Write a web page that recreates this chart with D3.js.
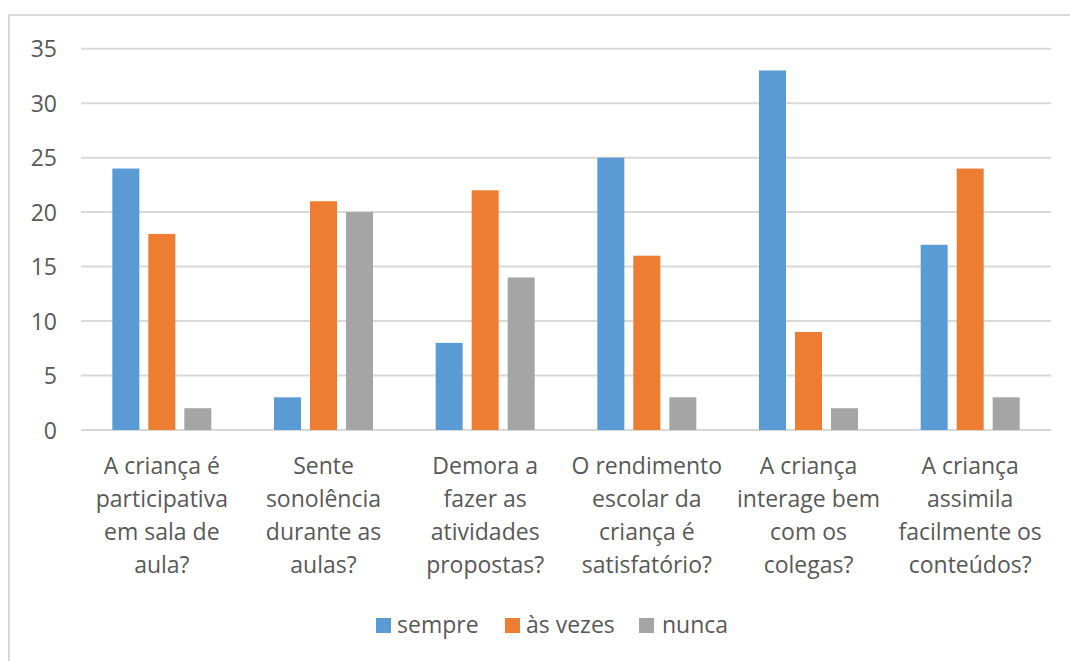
<!DOCTYPE html>
<html>
<head>
<meta charset="utf-8">
<script src="https://cdn.jsdelivr.net/npm/d3@7"></script>
<style>
  html, body { margin: 0; padding: 0; background: #fff; }
  svg { display: block; }
  text { font-family: "Open Sans", "Noto Sans", sans-serif; fill: #595959; }
</style>
</head>
<body>
<svg id="chart" width="1070" height="661"></svg>
<script>
// Survey answers per question
const categories = [
  ["A criança é", "participativa", "em sala de", "aula?"],
  ["Sente", "sonolência", "durante as", "aulas?"],
  ["Demora a", "fazer as", "atividades", "propostas?"],
  ["O rendimento", "escolar da", "criança é", "satisfatório?"],
  ["A criança", "interage bem", "com os", "colegas?"],
  ["A criança", "assimila", "facilmente os", "conteúdos?"]
];
const seriesNames = ["sempre", "às vezes", "nunca"];
const sempre = [24, 3, 8, 25, 33, 17];
const asVezes = [18, 21, 22, 16, 9, 24];
const nunca = [2, 20, 14, 3, 2, 3];
const yTicks = [0, 5, 10, 15, 20, 25, 30, 35];
const colors = ["#5B9BD5", "#ED7D31", "#A5A5A5"];

const seriesValues = [sempre, asVezes, nunca];
const catKeys = categories.map((c, i) => "c" + i);

const svg = d3.select("#chart");

// outer chart frame
svg.append("rect")
  .attr("x", 9).attr("y", 15)
  .attr("width", 1080).attr("height", 670)
  .attr("fill", "none")
  .attr("stroke", "#d9d9d9")
  .attr("stroke-width", 2);

const plot = { left: 81, right: 1051, top: 48.7, bottom: 430 };

const x0 = d3.scaleBand().domain(catKeys).range([plot.left, plot.right]).padding(0);
const clusterW = 99;
const x1 = d3.scaleBand().domain(seriesNames)
  .range([(x0.bandwidth() - clusterW) / 2, (x0.bandwidth() + clusterW) / 2])
  .paddingInner(0.25).paddingOuter(0);
const y = d3.scaleLinear().domain([0, 35]).range([plot.bottom, plot.top]);

// horizontal gridlines
svg.append("g").selectAll("line")
  .data(yTicks)
  .join("line")
  .attr("x1", plot.left).attr("x2", plot.right)
  .attr("y1", d => y(d)).attr("y2", d => y(d))
  .attr("stroke", "#d9d9d9")
  .attr("stroke-width", 2);

// value axis labels
const yAxis = d3.axisLeft(y).tickValues(yTicks).tickSize(0).tickPadding(0);
const gy = svg.append("g").attr("transform", "translate(57,0)").call(yAxis);
gy.select(".domain").remove();
gy.selectAll("text")
  .attr("font-family", "Open Sans")
  .attr("font-size", 23)
  .attr("fill", "#595959")
  .attr("dy", "0.36em");

// bars
const groups = svg.append("g").selectAll("g")
  .data(catKeys)
  .join("g")
  .attr("transform", d => `translate(${x0(d)},0)`);

groups.selectAll("rect")
  .data((d, ci) => seriesNames.map((s, si) => ({ s, si, v: seriesValues[si][ci] })))
  .join("rect")
  .attr("x", d => x1(d.s))
  .attr("width", x1.bandwidth())
  .attr("y", d => y(d.v))
  .attr("height", d => y(0) - y(d.v))
  .attr("fill", d => colors[d.si]);

// category labels (wrapped lines)
const gx = svg.append("g");
categories.forEach((lines, i) => {
  const cx = x0(catKeys[i]) + x0.bandwidth() / 2;
  const t = gx.append("text")
    .attr("text-anchor", "middle")
    .attr("font-size", 23)
    .attr("x", cx)
    .attr("y", 474);
  lines.forEach((ln, j) => {
    t.append("tspan").attr("x", cx).attr("y", 474 + j * 33).text(ln);
  });
});

// legend
const legendItems = [
  { name: seriesNames[0], box: 376, text: 397 },
  { name: seriesNames[1], box: 505, text: 526 },
  { name: seriesNames[2], box: 639, text: 662 }
];
const lg = svg.append("g");
legendItems.forEach((it, i) => {
  lg.append("rect")
    .attr("x", it.box).attr("y", 618)
    .attr("width", 15).attr("height", 15)
    .attr("fill", colors[i]);
  lg.append("text")
    .attr("x", it.text).attr("y", 633)
    .attr("font-size", 23)
    .text(it.name);
});
</script>
</body>
</html>
